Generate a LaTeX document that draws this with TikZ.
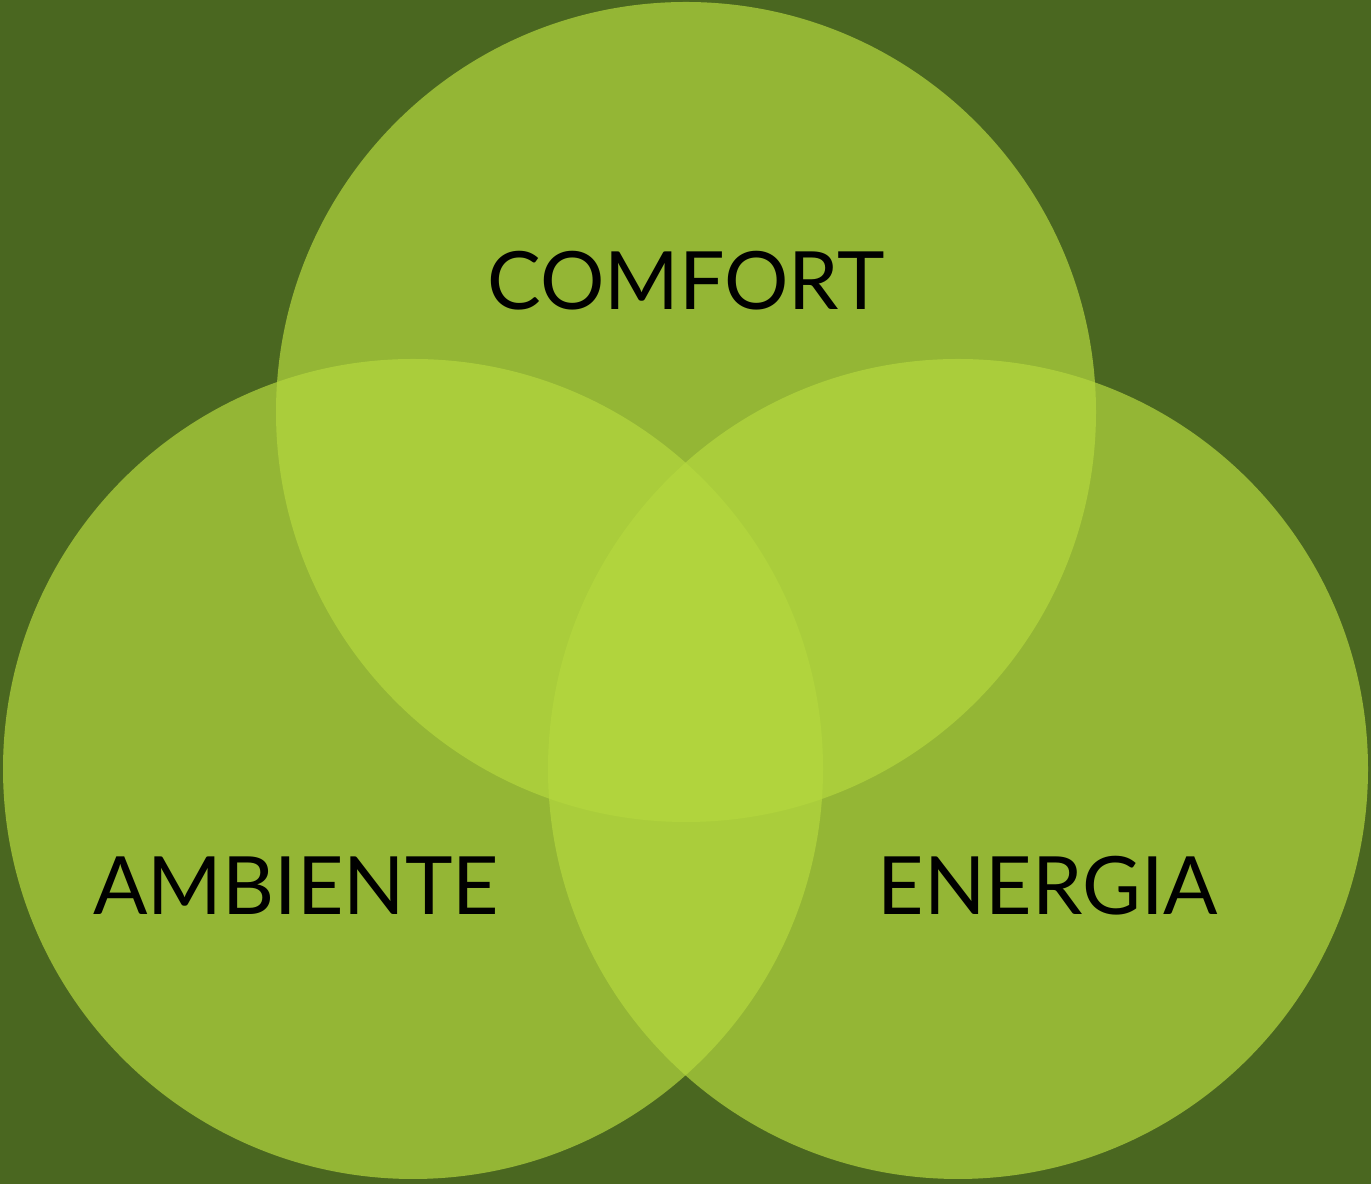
\documentclass[tikz,border=0pt]{standalone}
\usepackage{fontspec}
\setmainfont{Lato}
\usetikzlibrary{positioning}
\definecolor{bgdark}{RGB}{74,103,32}
\definecolor{leaf}{RGB}{180,216,62}
\tikzset{
  venn/.style = {circle, minimum size=8.2cm, inner sep=0pt, fill=leaf, fill opacity=0.7},
  vennlabel/.style = {font=\fontsize{22.9}{27}\selectfont, text=black, inner sep=0pt}
}

\begin{document}
\begin{tikzpicture}

    % Background
    \fill[bgdark] (0,0) rectangle (13.71,11.84);
    \useasboundingbox (0,0) rectangle (13.71,11.84);

    % Circles
    \node[venn] (comfort) at (6.86,7.72) {};
    \node[venn] (ambiente) at (4.13,4.15) {};
    \node[venn] (energia) at (9.58,4.15) {};

    % Labels
    \node[vennlabel] (comfortlabel) at (6.86,9.03) {COMFORT};
    \node[vennlabel] (ambientelabel) at (2.96,2.98) {AMBIENTE};
    \node[vennlabel] (energialabel) at (10.48,2.98) {ENERGIA};

\end{tikzpicture}
\end{document}
